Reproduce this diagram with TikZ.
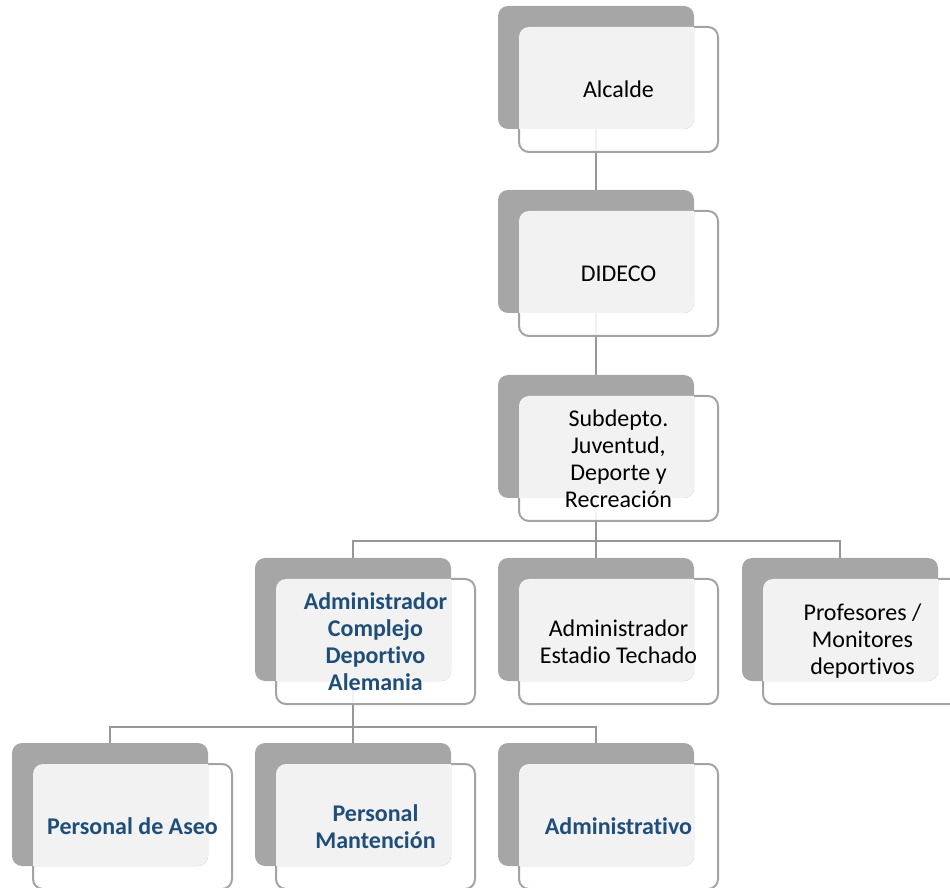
\documentclass[tikz,border=0pt]{standalone}
\usepackage{fontspec}
\setmainfont{Carlito}[RawFeature={-liga;-clig;-dlig;-calt}]
\usetikzlibrary{backgrounds}

\definecolor{backgray}{HTML}{A6A6A6}
\definecolor{paneltint}{HTML}{F2F2F2}
\definecolor{edgegray}{HTML}{A3A3A3}
\definecolor{linkgray}{HTML}{979797}
\definecolor{titleblue}{HTML}{1F4E79}

\tikzset{
  frontbox/.style={minimum width=99.5pt, minimum height=62.5pt, inner sep=2pt,
    outer sep=0pt, align=center, font=\fontsize{12}{13.5}\selectfont, text=black},
  backbox/.style={minimum width=98pt, minimum height=61.5pt, inner sep=0pt, outer sep=0pt},
  bluetext/.style={text=titleblue, font=\fontsize{12}{13.5}\selectfont\bfseries},
  link/.style={draw=linkgray, line width=1pt},
}

% panel = white card with border, grey card behind it, light tint on their overlap
\newcommand{\panelbg}[2]{%
  \fill[white, fill opacity=0.88, draw=edgegray, line width=1pt, rounded corners=5pt]
    (#1.south west) rectangle (#1.north east);
  \fill[backgray, rounded corners=5pt] (#2.south west) rectangle (#2.north east);
  \begin{scope}
    \clip[rounded corners=5pt] (#2.south west) rectangle (#2.north east);
    \fill[paneltint, rounded corners=5pt] (#1.south west) rectangle (#1.north east);
  \end{scope}}

\begin{document}
\begin{tikzpicture}[x=0.5pt, y=-0.5pt]
\useasboundingbox (0,0) rectangle (950,888);
\clip (0,0) rectangle (950,888);

% back cards (top-left corner bx,by; centre bx+98, by+61.5)
\node[backbox] (alcb) at (596,67.5) {};
\node[backbox] (didb) at (596,251.5) {};
\node[backbox] (subb) at (596,436.5) {};
\node[backbox] (acdb) at (353,619.5) {};
\node[backbox] (aetb) at (596,619.5) {};
\node[backbox] (profb) at (840,619.5) {};
\node[backbox] (aseob) at (110,804.5) {};
\node[backbox] (mantb) at (353,804.5) {};
\node[backbox] (admb) at (596,804.5) {};

% front cards with their texts
\node[frontbox] (alc) at (618.5,89.5) {Alcalde};
\node[frontbox] (did) at (618.5,273.5) {DIDECO};
\node[frontbox] (sub) at (618.5,458.5) {Subdepto.\\Juventud,\\Deporte y\\Recreación};
\node[frontbox, bluetext] (acd) at (375.5,641.5) {Administrador\\Complejo\\Deportivo\\Alemania};
\node[frontbox] (aet) at (618.5,641.5) {Administrador\\Estadio Techado};
\node[frontbox] (prof) at (862.5,641.5) {Profesores /\\Monitores\\deportivos};
\node[frontbox, bluetext] (aseo) at (132.5,826.5) {Personal de Aseo};
\node[frontbox, bluetext] (mant) at (375.5,826.5) {Personal\\Mantención};
\node[frontbox, bluetext] (adm) at (618.5,826.5) {Administrativo};

\coordinate (busA) at (596,541);
\coordinate (busB) at (353,727);

\begin{pgfonlayer}{background}
  % connectors
  \draw[link] (alcb.south) -- (didb.north);
  \draw[link] (didb.south) -- (subb.north);
  \draw[link] (subb.south) -- (busA);
  \draw[link] (acdb.north) |- (busA);
  \draw[link] (profb.north) |- (busA);
  \draw[link] (aetb.north) -- (busA);
  \draw[link] (acdb.south) -- (busB);
  \draw[link] (aseob.north) |- (busB);
  \draw[link] (admb.north) |- (busB);
  \draw[link] (mantb.north) -- (busB);
  % cards
  \panelbg{alc}{alcb}
  \panelbg{did}{didb}
  \panelbg{sub}{subb}
  \panelbg{acd}{acdb}
  \panelbg{aet}{aetb}
  \panelbg{prof}{profb}
  \panelbg{aseo}{aseob}
  \panelbg{mant}{mantb}
  \panelbg{adm}{admb}
\end{pgfonlayer}
\end{tikzpicture}
\end{document}
